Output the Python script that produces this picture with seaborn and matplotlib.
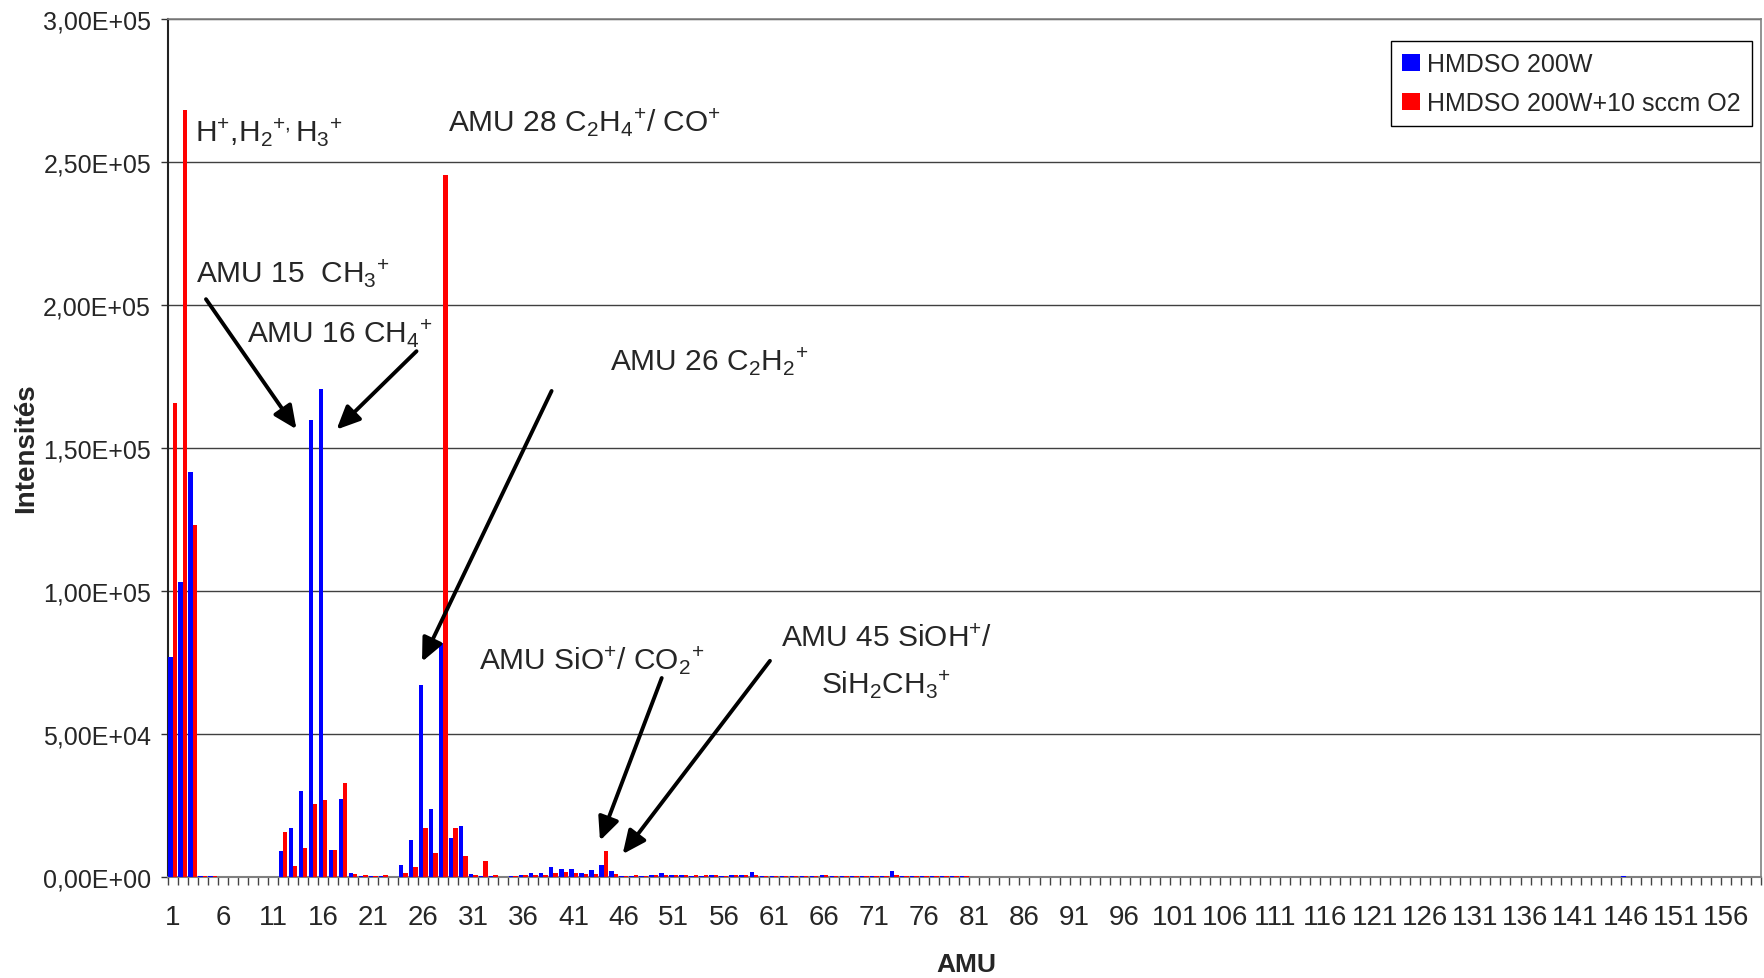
import numpy as np
import pandas as pd
import matplotlib
matplotlib.use("Agg")
import matplotlib.pyplot as plt
import seaborn as sns

# ---------------- data ----------------
amu = list(range(1, 160))

# HMDSO 200W (intensity, counts)
hmdso = [
    77000, 103000, 141500, 400, 200, 0, 0, 0, 0, 0,
    0, 9100, 17100, 30000, 159700, 170700, 9300, 27200, 1400, 300,
    200, 100, 0, 4000, 12800, 67000, 23700, 81600, 13700, 17800,
    1000, 200, 100, 0, 200, 500, 1300, 1300, 3500, 2700,
    2700, 1300, 2300, 4200, 2100, 300, 200, 200, 500, 1400,
    600, 500, 300, 300, 500, 200, 500, 500, 1500, 200,
    200, 200, 100, 300, 200, 600, 300, 100, 100, 200,
    100, 100, 2000, 300, 200, 100, 200, 100, 100, 100,
    0, 0, 0, 0, 0, 0, 0, 0, 0, 0,
    0, 0, 0, 0, 0, 0, 0, 0, 0, 0,
    0, 0, 0, 0, 0, 0, 0, 0, 0, 0,
    0, 0, 0, 0, 0, 0, 0, 0, 0, 0,
    0, 0, 0, 0, 0, 0, 0, 0, 0, 0,
    0, 0, 0, 0, 0, 0, 0, 0, 0, 0,
    0, 0, 0, 0, 0, 300, 0, 0, 0, 0,
    0, 0, 0, 0, 0, 0, 0, 0, 0,
]

# HMDSO 200W + 10 sccm O2
hmdso_o2 = [
    165600, 268000, 123000, 400, 100, 0, 0, 0, 0, 0,
    0, 15700, 3800, 10000, 25600, 26900, 9300, 32600, 900, 500,
    200, 500, 0, 1200, 3500, 16900, 8200, 245500, 17200, 7300,
    600, 5600, 500, 0, 100, 500, 700, 700, 1400, 1500,
    1300, 800, 800, 8900, 900, 100, 500, 300, 500, 700,
    500, 500, 500, 500, 500, 300, 500, 500, 600, 100,
    100, 100, 100, 100, 100, 600, 200, 100, 100, 100,
    100, 100, 600, 200, 100, 100, 100, 100, 100, 100,
    0, 0, 0, 0, 0, 0, 0, 0, 0, 0,
    0, 0, 0, 0, 0, 0, 0, 0, 0, 0,
    0, 0, 0, 0, 0, 0, 0, 0, 0, 0,
    0, 0, 0, 0, 0, 0, 0, 0, 0, 0,
    0, 0, 0, 0, 0, 0, 0, 0, 0, 0,
    0, 0, 0, 0, 0, 0, 0, 0, 0, 0,
    0, 0, 0, 0, 0, 0, 0, 0, 0, 0,
    0, 0, 0, 0, 0, 0, 0, 0, 0,
]

series_names = ["HMDSO 200W", "HMDSO 200W+10 sccm O2"]
series_colors = ["#0000FF", "#FF0000"]
xtick_labels = [str(v) for v in range(1, 160, 5)]
yticks = [0, 50000, 100000, 150000, 200000, 250000, 300000]

df = pd.DataFrame({
    "AMU": amu * 2,
    "Intensité": hmdso + hmdso_o2,
    "Série": [series_names[0]] * len(amu) + [series_names[1]] * len(amu),
})

# ---------------- style ----------------
sns.set_theme(style="white")
plt.rcParams["font.family"] = ["Liberation Sans", "DejaVu Sans"]
plt.rcParams["mathtext.fontset"] = "custom"
plt.rcParams["mathtext.rm"] = "Liberation Sans"
plt.rcParams["mathtext.it"] = "Liberation Sans:italic"
plt.rcParams["mathtext.bf"] = "Liberation Sans:bold"
plt.rcParams["mathtext.default"] = "regular"

W, H = 1765, 979
fig = plt.figure(figsize=(W / 100, H / 100), dpi=100)
ax_l, ax_r, ax_t, ax_b = 167.7, 1761.0, 20.0, 877.7
ax = fig.add_axes([ax_l / W, (H - ax_b) / H, (ax_r - ax_l) / W, (ax_b - ax_t) / H])

sns.barplot(data=df, x="AMU", y="Intensité", hue="Série", hue_order=series_names,
            palette=series_colors, saturation=1, width=0.88, dodge=True, linewidth=0,
            errorbar=None, ax=ax, zorder=3)

ax.set_xlim(-0.5, len(amu) - 0.5)
ax.set_ylim(0, 300000)

# x ticks: marks at category boundaries, labels every 5 categories
ax.set_xticks(np.arange(-0.5, len(amu), 1.0))
ax.set_xticklabels([])
ax.set_xticks(np.arange(0, len(amu), 5), minor=True)
ax.set_xticklabels(xtick_labels, minor=True)
ax.tick_params(axis="x", which="major", length=6, width=1, color="#444444", direction="out", bottom=True)
ax.tick_params(axis="x", which="minor", length=0, pad=19.5, labelsize=20, bottom=True)

ax.set_yticks(yticks)
ax.set_yticklabels([f"{v:.2E}".replace(".", ",") for v in yticks])
ax.tick_params(axis="y", which="major", length=5, width=1, color="#333333", direction="out",
               pad=7, labelsize=18, left=True)

ax.yaxis.grid(True, color="#404040", linewidth=1.0, zorder=0)
ax.xaxis.grid(False)
ax.set_axisbelow(True)

for s in ["top", "right"]:
    ax.spines[s].set_color("#808080")
    ax.spines[s].set_linewidth(1.2)
ax.spines["bottom"].set_color("#808080")
ax.spines["bottom"].set_linewidth(1.5)
ax.spines["left"].set_color("#222222")
ax.spines["left"].set_linewidth(1.5)

ax.set_xlabel("")
ax.set_ylabel("")
fig.text(966 / W, 1 - 965 / H, "AMU", ha="center", va="center", fontsize=19, fontweight="bold")
fig.text(26 / W, 1 - 448 / H, "Intensités", ha="center", va="center", rotation=90,
         fontsize=20, fontweight="bold")

# legend
leg = ax.legend(loc="upper right", bbox_to_anchor=(0.9945, 0.9744), fontsize=18,
                frameon=True, fancybox=False, edgecolor="black", framealpha=1,
                handlelength=0.7, handleheight=0.7, handletextpad=0.3,
                labelspacing=0.6, borderpad=0.45, borderaxespad=0)
leg.get_frame().set_linewidth(1.0)

# annotations
fs = 21.5
ax.text(2.24, 257300, r"H$^{+}$,H$_{2}{}^{+,}$H$_{3}{}^{+}$", fontsize=fs, va="baseline", ha="left")
ax.text(27.47, 260800, r"AMU 28 C$_{2}$H$_{4}{}^{+}$/ CO$^{+}$", fontsize=fs, va="baseline", ha="left")
ax.text(2.29, 207900, r"AMU 15  CH$_{3}{}^{+}$", fontsize=fs, va="baseline", ha="left")
ax.text(7.38, 187000, r"AMU 16 CH$_{4}{}^{+}$", fontsize=fs, va="baseline", ha="left")
ax.text(43.64, 177200, r"AMU 26 C$_{2}$H$_{2}{}^{+}$", fontsize=fs, va="baseline", ha="left")
ax.text(30.57, 72600, r"AMU SiO$^{+}$/ CO$_{2}{}^{+}$", fontsize=fs, va="baseline", ha="left")
ax.text(71.2, 80700, r"AMU 45 SiOH$^{+}$/", fontsize=fs, va="baseline", ha="center")
ax.text(71.2, 64100, r"SiH$_{2}$CH$_{3}{}^{+}$", fontsize=fs, va="baseline", ha="center")

arrow_kw = dict(arrowstyle="-|>,head_length=0.7,head_width=0.32", lw=2.8, color="black",
                mutation_scale=20, shrinkA=0, shrinkB=0)
arrows = [
    ((12.35, 156500), (3.32, 202000)),
    ((16.35, 156400), (24.33, 183800)),
    ((24.88, 75200), (37.81, 169900)),
    ((42.64, 12600), (48.8, 69500)),
    ((44.9, 7900), (59.6, 75500)),
]
for tip, start in arrows:
    ax.annotate("", xy=tip, xytext=start, xycoords="data", textcoords="data",
                arrowprops=arrow_kw, zorder=5)

fig.savefig("out.png", dpi=100)
